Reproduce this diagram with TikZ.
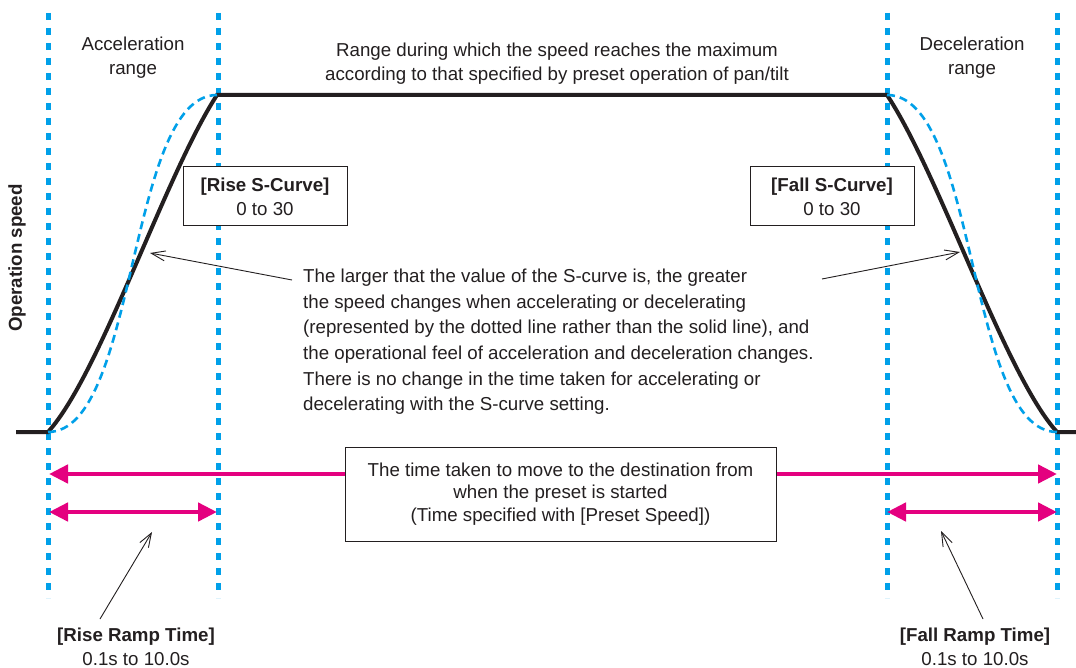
\documentclass[tikz,border=0pt]{standalone}
\usepackage{fontspec}
\setmainfont{Liberation Sans}
\usetikzlibrary{arrows.meta,calc}
\definecolor{ink}{HTML}{231F20}
\definecolor{skyline}{HTML}{00A0E9}
\definecolor{magline}{HTML}{E4007F}

\begin{document}
\begin{tikzpicture}[x=1pt, y=-1pt,
  txt/.style={text=ink, inner sep=0pt, align=center, font=\fontsize{18.7}{24}\selectfont},
  rangeline/.style={draw=skyline, line width=5pt, dash pattern=on 7pt off 8pt},
  scurve/.style={draw=skyline, line width=2.6pt, dash pattern=on 8pt off 5pt},
  speed/.style={draw=ink, line width=4pt},
  timespan/.style={draw=magline, line width=4.5pt, {Triangle[length=19pt,width=18pt]}-{Triangle[length=19pt,width=18pt]}},
  pointer/.style={draw=ink, line width=0.9pt, -{Straight Barb[length=14pt,width=10pt]}},
  setbox/.style={txt, draw=ink, line width=1pt, fill=white, minimum width=164pt, minimum height=59pt}]

\path[use as bounding box, fill=white] (0,0) rectangle (1076,668);

\coordinate (accstart) at (48,432);
\coordinate (accend) at (217,95);
\coordinate (decstart) at (887,95);
\coordinate (decend) at (1057,432);

\foreach \x in {48,218,887,1057}
  \draw[rangeline] (\x,13) -- (\x,598);

\draw[speed] (16,432) -- (accstart) .. controls (100,375) and (165,175) .. (accend)
  -- (decstart) .. controls (940,175) and (1005,375) .. (decend) -- (1076,432);
\draw[scurve] (accstart) .. controls (138,432) and (127,95) .. (accend);
\draw[scurve] (decstart) .. controls (978,95) and (967,432) .. (decend);

\coordinate (totL) at (49,474);
\coordinate (totR) at (1057,474);
\coordinate (riseL) at (49,512);
\coordinate (riseR) at (217,512);
\coordinate (fallL) at (887,512);
\coordinate (fallR) at (1057,512);
\draw[timespan] (totL) -- (totR);
\draw[timespan] (riseL) -- (riseR);
\draw[timespan] (fallL) -- (fallR);

\node[txt] (acc) at (133,57.5) {Acceleration\\range};
\node[txt] (dec) at (972,57.5) {Deceleration\\range};
\node[txt] (maxrange) at (557,63.5) {Range during which the speed reaches the maximum\\according to that specified by preset operation of pan/tilt};
\node[txt, rotate=90, font=\fontsize{18.7}{24}\selectfont\bfseries] (opspeed) at (17,258) {Operation speed};

\node[setbox] (riseset) at (265,196.5) {\textbf{[Rise S-Curve]}\\0 to 30};
\node[setbox] (fallset) at (832,196.5) {\textbf{[Fall S-Curve]}\\0 to 30};

\node[txt, align=left, anchor=north west, font=\fontsize{18.7}{25.6}\selectfont] (note) at (303,269)
  {The larger that the value of the S-curve is, the greater\\
   the speed changes when accelerating or decelerating\\
   (represented by the dotted line rather than the solid line), and\\
   the operational feel of acceleration and deceleration changes.\\
   There is no change in the time taken for accelerating or\\
   decelerating with the S-curve setting.};

\node[setbox, minimum width=431pt, minimum height=94pt, font=\fontsize{18.7}{22.5}\selectfont] (timebox) at (560.5,494)
  {The time taken to move to the destination from\\when the preset is started\\(Time specified with [Preset Speed])};

\node[txt] (riseramp) at (136,646.5) {\textbf{[Rise Ramp Time]}\\0.1s to 10.0s};
\node[txt] (fallramp) at (975,646.5) {\textbf{[Fall Ramp Time]}\\0.1s to 10.0s};

\coordinate (risecurve) at (150,253);
\coordinate (fallcurve) at (960,252);
\coordinate (notel) at (292,280);
\coordinate (noter) at (822,279);
\coordinate (risetip) at (152,532);
\coordinate (falltip) at (941,531);
\coordinate (risefoot) at (100,619);
\coordinate (fallfoot) at (983,619);
\draw[pointer] (notel) -- (risecurve);
\draw[pointer] (noter) -- (fallcurve);
\draw[pointer] (risefoot) -- (risetip);
\draw[pointer] (fallfoot) -- (falltip);
\end{tikzpicture}
\end{document}
